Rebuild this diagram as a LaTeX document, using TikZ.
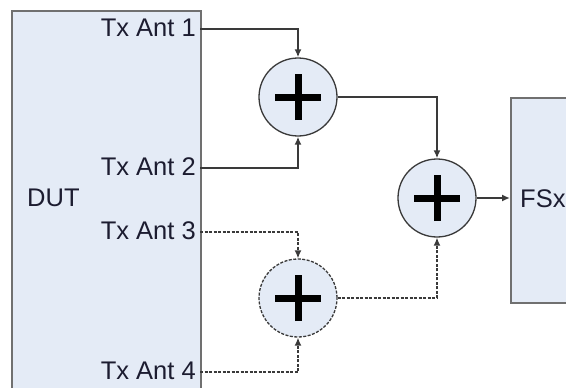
\documentclass[tikz,border=0pt]{standalone}
\usepackage{fontspec}
\setmainfont{Liberation Sans}
\usetikzlibrary{arrows.meta}
\definecolor{boxfill}{HTML}{E4EBF6}
\definecolor{boxline}{HTML}{707070}
\definecolor{conline}{HTML}{3A3A3A}
\definecolor{txt}{HTML}{1C1C30}
\begin{document}
\begin{tikzpicture}[x=1pt,y=-1pt,
  box/.style={draw=boxline,fill=boxfill,line width=2.2pt,rectangle,inner sep=0pt},
  lbl/.style={text=txt,font=\fontsize{25.5}{30}\selectfont,inner sep=0pt},
  conn/.style={draw=conline,line width=1.8pt,-{Latex[length=8pt,width=7pt]}},
  dconn/.style={conn,dash pattern=on 3pt off 1.5pt,line width=1.4pt},
  sumc/.style={circle,draw=conline,fill=boxfill,line width=1.3pt,minimum size=78pt,inner sep=0pt,
    path picture={\draw[black,solid,line width=7pt] (path picture bounding box.center) ++(-23pt,0pt) -- ++(46pt,0pt);
                  \draw[black,solid,line width=7pt] (path picture bounding box.center) ++(0pt,-23pt) -- ++(0pt,46pt);}},
  dsumc/.style={sumc,dash pattern=on 3pt off 1.5pt}]
\useasboundingbox (0,0) rectangle (566,388);
% boxes
\node[box,anchor=north west,minimum width=189pt,minimum height=400pt] (dut) at (11,10) {};
\node[box,anchor=north west,minimum width=80pt,minimum height=205pt] (fsx) at (510,97) {};
% labels
\node[lbl,anchor=west] (dutl) at (27,198) {DUT};
\node[lbl,anchor=west] (fsxl) at (520,199) {FSx};
\node[lbl,anchor=east] (t1) at (196,28) {Tx Ant 1};
\node[lbl,anchor=east] (t2) at (196,167) {Tx Ant 2};
\node[lbl,anchor=east] (t3) at (196,231) {Tx Ant 3};
\node[lbl,anchor=east] (t4) at (196,371) {Tx Ant 4};
% ports
\coordinate (p1) at (200,29);
\coordinate (p2) at (200,168);
\coordinate (p3) at (200,232);
\coordinate (p4) at (200,372);
% summers
\node[sumc] (s1) at (298,97) {};
\node[sumc] (s2) at (437,198) {};
\node[dsumc] (s3) at (298,298) {};
% connectors
\draw[conn] (p1) -| (s1);
\draw[conn] (p2) -| (s1);
\draw[conn] (s1) -| (s2);
\draw[conn] (s2) -- (fsx.west |- s2);
\draw[dconn] (p3) -| (s3);
\draw[dconn] (p4) -| (s3);
\draw[dconn] (s3) -| (s2);
\end{tikzpicture}
\end{document}
